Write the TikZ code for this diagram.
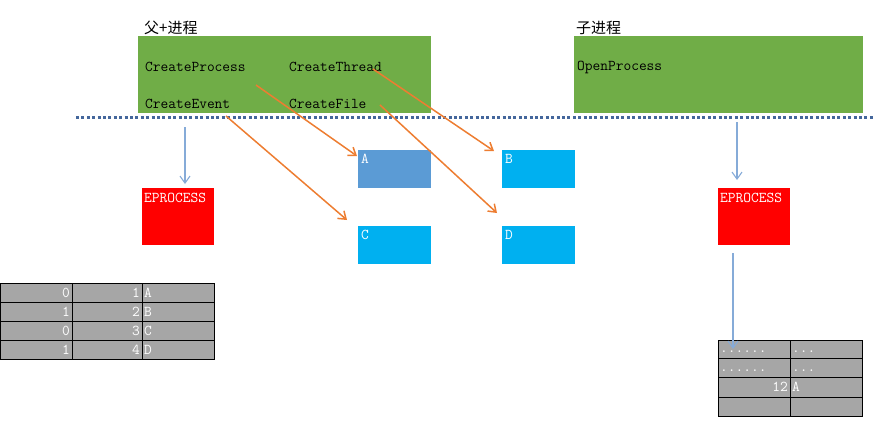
\documentclass[tikz,border=0pt]{standalone}
\usepackage{fontspec}
\newfontfamily\cjk{Noto Sans CJK SC}
\usetikzlibrary{arrows.meta}
\definecolor{grn}{HTML}{70AD47}
\definecolor{bluA}{HTML}{5B9BD5}
\definecolor{cyanB}{HTML}{00B0F0}
\definecolor{org}{HTML}{ED7D31}
\definecolor{lblue}{HTML}{86ABD8}
\definecolor{dotc}{HTML}{44679C}
\definecolor{cellg}{HTML}{A6A6A6}
\tikzset{
  fn/.style={font=\ttfamily\fontsize{15}{15}\selectfont,anchor=west,inner sep=0,text=black},
  wt/.style={font=\ttfamily\fontsize{15}{15}\selectfont,inner sep=0,text=white},
  cjklab/.style={font=\cjk\fontsize{15}{15}\selectfont,anchor=west,inner sep=0},
  oarrow/.style={draw=org,line width=1.5pt,-{Straight Barb[length=7pt,width=10pt]}},
  barrow/.style={draw=lblue,line width=1.1pt,-{Straight Barb[length=7pt,width=10pt]}},
  cell/.style={fill=cellg,draw=black,line width=0.9pt},
}
\begin{document}
\begin{tikzpicture}[x=1pt,y=-1pt]
\useasboundingbox (0,0) rectangle (875,429);
% green boxes
\fill[grn] (138,36) rectangle (431,113);
\fill[grn] (574,36) rectangle (863,113);
\node[cjklab] (parlab) at (144,28) {父+进程};
\node[cjklab] (chlab) at (576,28) {子进程};
\node[fn] (cp) at (145,67) {CreateProcess};
\node[fn] (ct) at (289,67) {CreateThread};
\node[fn] (ce) at (145,104) {CreateEvent};
\node[fn] (cf) at (289,104) {CreateFile};
\node[fn] (op) at (577,67) {OpenProcess};
% dotted line
\coordinate (dl) at (76,117);
\coordinate (dr) at (875,117);
\draw[dotc,line width=3pt,dash pattern=on 3pt off 2.4pt] (dl) -- (dr);
% boxes
\fill[red] (142,188) rectangle (214,245);
\node[wt,anchor=north west] (ep1) at (144,193) {EPROCESS};
\fill[red] (718,188) rectangle (790,245);
\node[wt,anchor=north west] (ep2) at (720,193) {EPROCESS};
\fill[bluA] (358,150) rectangle (431,188);
\node[wt,anchor=north west] (A) at (361,154) {A};
\fill[cyanB] (502,150) rectangle (575,188);
\node[wt,anchor=north west] (B) at (505,154) {B};
\fill[cyanB] (358,226) rectangle (431,264);
\node[wt,anchor=north west] (C) at (361,230) {C};
\fill[cyanB] (502,226) rectangle (575,264);
\node[wt,anchor=north west] (D) at (505,230) {D};
% orange arrows
\coordinate (s1) at (256,85);  \coordinate (e1) at (357,156);
\coordinate (s2) at (226,116); \coordinate (e2) at (347,220);
\coordinate (s3) at (373,69);  \coordinate (e3) at (494,151);
\coordinate (s4) at (380,105); \coordinate (e4) at (497,213);
\draw[oarrow] (s1) -- (e1);
\draw[oarrow] (s2) -- (e2);
\draw[oarrow] (s3) -- (e3);
\draw[oarrow] (s4) -- (e4);
% blue arrows
\coordinate (b1s) at (185,127); \coordinate (b1e) at (185,184);
\coordinate (b2s) at (737,122); \coordinate (b2e) at (737,180);
\coordinate (b3s) at (733,253); \coordinate (b3e) at (733,349);
\draw[barrow] (b1s) -- (b1e);
\draw[barrow] (b2s) -- (b2e);
% left table
\foreach \r/\a/\b/\c in {0/0/1/A,1/1/2/B,2/0/3/C,3/1/4/D}{
  \pgfmathsetmacro\yt{283+19*\r}
  \pgfmathsetmacro\yb{302+19*\r}
  \draw[cell] (0,\yt) rectangle (72,\yb);
  \draw[cell] (72,\yt) rectangle (142,\yb);
  \draw[cell] (142,\yt) rectangle (214,\yb);
  \node[wt,anchor=east] (la\r) at (70,{(\yt+\yb)/2}) {\a};
  \node[wt,anchor=east] (lb\r) at (140,{(\yt+\yb)/2}) {\b};
  \node[wt,anchor=west] (lc\r) at (144,{(\yt+\yb)/2}) {\c};
}
% right table
\foreach \yt/\yb in {340/358,358/377,377/397,397/416}{
  \draw[cell] (718,\yt) rectangle (790,\yb);
  \draw[cell] (790,\yt) rectangle (862,\yb);
}
\node[wt,anchor=west] (r1a) at (720,352) {......};
\node[wt,anchor=west] (r1b) at (792,352) {...};
\node[wt,anchor=west] (r2a) at (720,371) {......};
\node[wt,anchor=west] (r2b) at (792,371) {...};
\node[wt,anchor=east] (r3a) at (788,387) {12};
\node[wt,anchor=west] (r3b) at (792,387) {A};
\draw[barrow] (b3s) -- (b3e);
\end{tikzpicture}
\end{document}
